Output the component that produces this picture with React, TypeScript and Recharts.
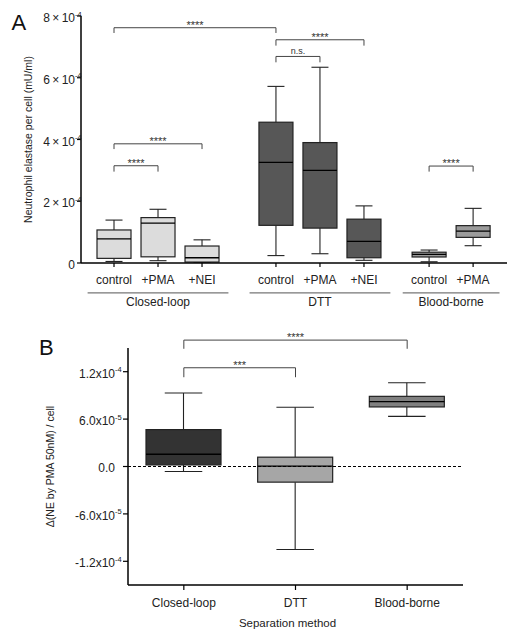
import React from 'react';
import { ComposedChart, Bar, XAxis, YAxis, ReferenceLine } from 'recharts';

// ---- panel A: neutrophil elastase per cell ----
const categoriesA = ['control', '+PMA', '+NEI', 'control', '+PMA', '+NEI', 'control', '+PMA'];
const groupOfA = [0, 0, 0, 1, 1, 1, 2, 2];
const groupNamesA = ['Closed-loop', 'DTT', 'Blood-borne'];
const minA = [0.05e-4, 0.075e-4, 0.005e-4, 0.24e-4, 0.3e-4, 0.087e-4, 0.04e-4, 0.56e-4];
const q1A = [0.15e-4, 0.2e-4, 0.03e-4, 1.22e-4, 1.13e-4, 0.17e-4, 0.195e-4, 0.83e-4];
const medianA = [0.78e-4, 1.29e-4, 0.17e-4, 3.26e-4, 3.0e-4, 0.7e-4, 0.28e-4, 1.03e-4];
const q3A = [1.07e-4, 1.47e-4, 0.55e-4, 4.56e-4, 3.9e-4, 1.42e-4, 0.35e-4, 1.21e-4];
const maxA = [1.39e-4, 1.74e-4, 0.75e-4, 5.72e-4, 6.34e-4, 1.85e-4, 0.42e-4, 1.77e-4];
const ticksA = [0, 2e-4, 4e-4, 6e-4, 8e-4];
const bracketsA = [
  { from: 0, to: 3, y: 7.62e-4, end: 7.45e-4, text: '****' },
  { from: 0, to: 2, y: 3.86e-4, end: 3.69e-4, text: '****' },
  { from: 0, to: 1, y: 3.15e-4, end: 2.96e-4, text: '****' },
  { from: 3, to: 4, y: 6.69e-4, end: 6.5e-4, text: 'n.s.' },
  { from: 3, to: 5, y: 7.23e-4, end: 7.04e-4, text: '****' },
  { from: 6, to: 7, y: 3.14e-4, end: 2.96e-4, text: '****' },
];

// ---- panel B: change by PMA ----
const categoriesB = ['Closed-loop', 'DTT', 'Blood-borne'];
const minB = [-0.63e-5, -1.05e-4, 6.35e-5];
const q1B = [0.2e-5, -1.98e-5, 7.54e-5];
const medianB = [1.55e-5, 0.05e-5, 8.2e-5];
const q3B = [4.67e-5, 1.18e-5, 8.88e-5];
const maxB = [9.3e-5, 7.5e-5, 1.06e-4];
const ticksB = [-1.2e-4, -6e-5, 0, 6e-5, 1.2e-4];
const bracketsB = [
  { from: 0, to: 2, y: 1.6e-4, end: 1.49e-4, text: '****' },
  { from: 0, to: 1, y: 1.25e-4, end: 1.13e-4, text: '***' },
];

// layout / style
const groupGap = [0, 0.68, 1.16];
const groupLineY = -0.97e-4;
const colorsA = ['#dcdcdc', '#575757', '#9b9b9b'];
const colorsB = ['#333333', '#a6a6a6', '#808080'];
const FONT = '"Liberation Sans", Arial, sans-serif';
const INK = '#222';

const rowsA = categoriesA.map((label, i) => ({
  x: i + groupGap[groupOfA[i]],
  label,
  group: groupOfA[i],
  box: [q1A[i], q3A[i]],
  min: minA[i],
  q1: q1A[i],
  median: medianA[i],
  q3: q3A[i],
  max: maxA[i],
}));

const rowsB = categoriesB.map((label, i) => ({
  x: i,
  label,
  group: i,
  box: [q1B[i], q3B[i]],
  min: minB[i],
  q1: q1B[i],
  median: medianB[i],
  q3: q3B[i],
  max: maxB[i],
}));

const BoxShape = (props: any) => {
  const { x, y, width, height, payload, palette } = props;
  if (x == null || payload == null) return null;
  const top = Math.min(y, y + height);
  const h = Math.abs(height);
  const span = payload.q3 - payload.q1;
  const ppu = span > 0 ? h / span : 0;
  const py = (v: number) => top + (payload.q3 - v) * ppu;
  const cx = x + width / 2;
  const cap = width / 4;
  return (
    <g>
      <line x1={cx} x2={cx} y1={py(payload.max)} y2={top} stroke={INK} strokeWidth={1.1} />
      <line x1={cx} x2={cx} y1={top + h} y2={py(payload.min)} stroke={INK} strokeWidth={1.1} />
      <line x1={cx - cap} x2={cx + cap} y1={py(payload.max)} y2={py(payload.max)} stroke={INK} strokeWidth={1.1} />
      <line x1={cx - cap} x2={cx + cap} y1={py(payload.min)} y2={py(payload.min)} stroke={INK} strokeWidth={1.1} />
      <rect x={x} y={top} width={width} height={h} fill={palette[payload.group]} stroke={INK} strokeWidth={1.2} />
      <line x1={x} x2={x + width} y1={py(payload.median)} y2={py(payload.median)} stroke="#000" strokeWidth={1.3} />
    </g>
  );
};

const SciTick = (props: any) => {
  const { x, y, payload, sep, fixed, zero } = props;
  const v = payload.value;
  if (Math.abs(v) < 1e-12) {
    return (
      <text x={x} y={y} dy={5.5} textAnchor="end" fontSize={12} fill={INK} fontFamily={FONT}>
        {zero}
      </text>
    );
  }
  const exp = Math.floor(Math.log10(Math.abs(v)) + 1e-9);
  const m = v / Math.pow(10, exp);
  return (
    <g fontFamily={FONT} fill={INK}>
      <text x={x} y={y} dy={6} textAnchor="end" fontSize={12}>
        {`${m.toFixed(fixed)}${sep}10`}
      </text>
      <text x={x} y={y} dy={0.5} textAnchor="start" fontSize={7.5}>
        {exp}
      </text>
    </g>
  );
};

// stars sit a little lower than plain text so they hug the bracket
const bracketLabel = (text: string) =>
  text.includes('*')
    ? { value: text, position: 'top', offset: -1, fontSize: 11, fill: '#333', fontFamily: FONT }
    : { value: text, position: 'top', offset: 2, fontSize: 9, fill: '#333', fontFamily: FONT };

const bracketLines = (list: any[], xs: number[], prefix: string) =>
  list.flatMap((b, k) => [
    <ReferenceLine
      key={`${prefix}h${k}`}
      segment={[{ x: xs[b.from], y: b.y }, { x: xs[b.to], y: b.y }]}
      stroke="#444"
      strokeWidth={1}
      ifOverflow="visible"
      label={bracketLabel(b.text) as any}
    />,
    <ReferenceLine
      key={`${prefix}l${k}`}
      segment={[{ x: xs[b.from], y: b.y }, { x: xs[b.from], y: b.end }]}
      stroke="#444"
      strokeWidth={1}
      ifOverflow="visible"
    />,
    <ReferenceLine
      key={`${prefix}r${k}`}
      segment={[{ x: xs[b.to], y: b.y }, { x: xs[b.to], y: b.end }]}
      stroke="#444"
      strokeWidth={1}
      ifOverflow="visible"
    />,
  ]);

const PanelA = () => {
  const xs = rowsA.map((r) => r.x);
  const labelOf = (v: number) => rowsA.find((r) => Math.abs(r.x - v) < 1e-6)?.label ?? '';
  return (
    <ComposedChart width={518} height={320} data={rowsA} margin={{ top: 16, right: 11, bottom: 27, left: 0 }}>
      <XAxis
        dataKey="x"
        type="number"
        domain={[-0.75, 8.93]}
        ticks={xs}
        interval={0}
        allowDataOverflow
        height={30}
        tickSize={4}
        tickMargin={8}
        tickFormatter={labelOf}
        tick={{ fontSize: 12, fill: INK, fontFamily: FONT }}
        axisLine={{ stroke: '#000', strokeWidth: 1.5 }}
        tickLine={{ stroke: '#000', strokeWidth: 1.2 }}
      />
      <YAxis
        type="number"
        domain={[0, 8e-4]}
        ticks={ticksA}
        interval={0}
        allowDataOverflow
        width={81}
        tickSize={4}
        tickMargin={2}
        axisLine={{ stroke: '#000', strokeWidth: 1.5 }}
        tickLine={{ stroke: '#000', strokeWidth: 1.2 }}
        tick={(p: any) => <SciTick {...p} sep={'\u2009×\u2009'} fixed={0} zero="0" />}
        label={{
          value: 'Neutrophil elastase per cell (mU/ml)',
          angle: -90,
          position: 'insideLeft',
          offset: 28,
          style: { textAnchor: 'middle' },
          fontSize: 10.5,
          fill: INK,
          fontFamily: FONT,
        }}
      />
      <Bar
        dataKey="box"
        barSize={34}
        isAnimationActive={false}
        shape={(p: any) => <BoxShape {...p} palette={colorsA} />}
      />
      {bracketLines(bracketsA, xs, 'a')}
      {groupNamesA.map((name, g) => {
        const gx = rowsA.filter((r) => r.group === g).map((r) => r.x);
        return (
          <ReferenceLine
            key={`g${g}`}
            segment={[
              { x: Math.min(...gx) - 0.6, y: groupLineY },
              { x: Math.max(...gx) + 0.6, y: groupLineY },
            ]}
            stroke="#777"
            strokeWidth={1.2}
            ifOverflow="visible"
            label={{ value: name, position: 'bottom', offset: 5, fontSize: 12, fill: INK, fontFamily: FONT }}
          />
        );
      })}
    </ComposedChart>
  );
};

const PanelB = () => {
  const xs = rowsB.map((r) => r.x);
  return (
    <ComposedChart width={518} height={318} data={rowsB} margin={{ top: 28, right: 55, bottom: 6, left: 0 }}>
      <XAxis
        dataKey="x"
        type="number"
        domain={[-0.5, 2.5]}
        ticks={xs}
        interval={0}
        allowDataOverflow
        height={47}
        tickSize={5}
        tickMargin={8}
        tickFormatter={(v: number) => categoriesB[Math.round(v)] ?? ''}
        tick={{ fontSize: 12, fill: INK, fontFamily: FONT }}
        axisLine={{ stroke: '#000', strokeWidth: 1.5 }}
        tickLine={{ stroke: '#000', strokeWidth: 1.2 }}
        label={{
          value: 'Separation method',
          position: 'insideBottom',
          offset: 5,
          dx: -8,
          fontSize: 11.5,
          fill: INK,
          fontFamily: FONT,
        }}
      />
      <YAxis
        type="number"
        domain={[-1.5e-4, 1.5e-4]}
        ticks={ticksB}
        interval={0}
        allowDataOverflow
        width={128}
        tickSize={5}
        tickMargin={8}
        axisLine={{ stroke: '#000', strokeWidth: 1.5 }}
        tickLine={{ stroke: '#000', strokeWidth: 1.2 }}
        tick={(p: any) => <SciTick {...p} sep="x" fixed={1} zero="0.0" />}
        label={{
          value: 'Δ(NE by PMA 50nM) / cell',
          angle: -90,
          position: 'insideLeft',
          offset: 50,
          style: { textAnchor: 'middle' },
          fontSize: 10.5,
          fill: INK,
          fontFamily: FONT,
        }}
      />
      <ReferenceLine y={0} stroke="#000" strokeWidth={1} strokeDasharray="3 2" />
      <Bar
        dataKey="box"
        barSize={75}
        isAnimationActive={false}
        shape={(p: any) => <BoxShape {...p} palette={colorsB} />}
      />
      {bracketLines(bracketsB, xs, 'b')}
    </ComposedChart>
  );
};

const panelTag: React.CSSProperties = {
  position: 'absolute',
  fontFamily: FONT,
  fontSize: 22,
  lineHeight: '22px',
  color: '#111',
};

export default function App() {
  return (
    <div style={{ position: 'absolute', left: 0, top: 0, width: 518, height: 638, background: '#fff', fontFamily: FONT }}>
      <div style={{ position: 'absolute', left: 0, top: 0 }}>
        <PanelA />
      </div>
      <div style={{ position: 'absolute', left: 0, top: 320 }}>
        <PanelB />
      </div>
      <div style={{ ...panelTag, left: 11.5, top: 12 }}>A</div>
      <div style={{ ...panelTag, left: 39, top: 337 }}>B</div>
    </div>
  );
}
